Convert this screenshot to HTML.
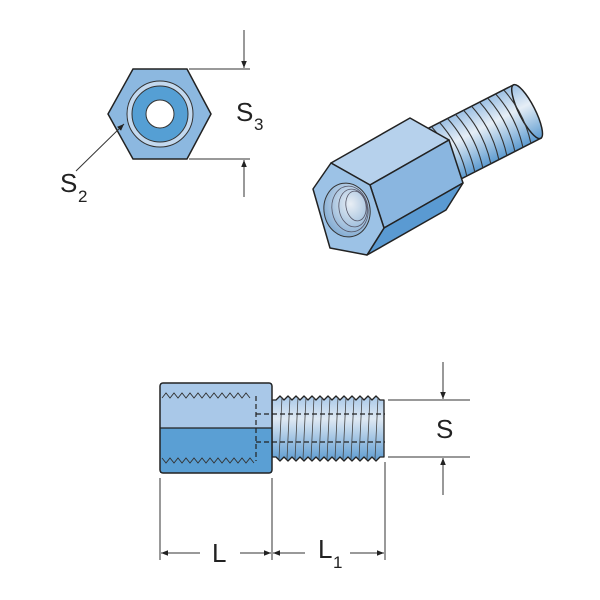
<!DOCTYPE html>
<html><head><style>body{margin:0;background:#fff}svg{display:block}</style></head><body>
<svg width="600" height="600" viewBox="0 0 600 600" xmlns="http://www.w3.org/2000/svg">
<defs>
<marker id="ar" viewBox="0 0 10 10" refX="10" refY="5" markerWidth="7" markerHeight="7" orient="auto"><path d="M0,1 L10,5 L0,9 z" fill="#222"/></marker>
<linearGradient id="th" x1="0" y1="0" x2="0" y2="1"><stop offset="0" stop-color="#9cc0e4"/><stop offset="0.4" stop-color="#e6eef6"/><stop offset="1" stop-color="#5d9bd0"/></linearGradient>
<linearGradient id="th2" x1="0" y1="0" x2="0" y2="1"><stop offset="0" stop-color="#a8c8e8"/><stop offset="0.35" stop-color="#dfe9f3"/><stop offset="1" stop-color="#5e9cd2"/></linearGradient>
<radialGradient id="hole" cx="0.6" cy="0.4" r="0.7"><stop offset="0" stop-color="#e8eef5"/><stop offset="1" stop-color="#7aa6d0"/></radialGradient>
</defs>
<g font-family="Liberation Sans, sans-serif" fill="#222">
<polygon points="133,69 187,69 211,114 187,159 133,159 108,114" fill="#8cb8e0" stroke="#222" stroke-width="1.5"/>
<circle cx="160" cy="114" r="33" fill="#c3d9ef" stroke="#333" stroke-width="1"/>
<circle cx="160" cy="114" r="28" fill="#559fd4" stroke="#333" stroke-width="1"/>
<circle cx="160" cy="114" r="14" fill="#fff" stroke="#333" stroke-width="1"/>
<line x1="189" y1="69" x2="250" y2="69" stroke="#333"/>
<line x1="189" y1="159" x2="250" y2="159" stroke="#333"/>
<line x1="244" y1="30" x2="244" y2="68" stroke="#333" marker-end="url(#ar)"/>
<line x1="244" y1="197" x2="244" y2="160" stroke="#333" marker-end="url(#ar)"/>
<text x="236" y="121" font-size="26">S</text><text x="254" y="130" font-size="17">3</text>
<line x1="76" y1="171" x2="124" y2="124" stroke="#333" marker-end="url(#ar)"/>
<text x="60" y="192" font-size="26">S</text><text x="78" y="202" font-size="17">2</text>
<g transform="translate(438,157) rotate(-27)">
<rect x="0" y="-30" width="100" height="60" fill="url(#th)" stroke="#222" stroke-width="1.5"/>
<ellipse cx="100" cy="0" rx="8" ry="30" fill="url(#th)" stroke="#222" stroke-width="1.5"/>
<g stroke="#333" stroke-width="1.1" fill="none">
<path d="M8,-30 q8,30 0,60 M17,-30 q8,30 0,60 M26,-30 q8,30 0,60 M35,-30 q8,30 0,60 M44,-30 q8,30 0,60 M53,-30 q8,30 0,60 M62,-30 q8,30 0,60 M71,-30 q8,30 0,60 M80,-30 q8,30 0,60 M89,-30 q8,30 0,60"/>
</g>
</g>
<polygon points="331,163 410,118 449,140 370,185" fill="#b6d1ec" stroke="#222" stroke-width="1.5" stroke-linejoin="round"/>
<polygon points="370,185 449,140 463,183 384,228" fill="#8ab6e0" stroke="#222" stroke-width="1.5" stroke-linejoin="round"/>
<polygon points="384,228 463,183 446,210 367,255" fill="#5a9ad2" stroke="#222" stroke-width="1.5" stroke-linejoin="round"/>
<polygon points="313,189 331,163 370,185 384,228 367,255 330,248" fill="#9cc2e6" stroke="#222" stroke-width="1.5" stroke-linejoin="round"/>
<ellipse cx="347" cy="210" rx="23" ry="27" transform="rotate(-10 347 210)" fill="url(#hole)" stroke="#333" stroke-width="1"/>
<g stroke="#556" stroke-width="0.8" fill="none">
<ellipse cx="350" cy="209" rx="18" ry="23" transform="rotate(-10 350 209)"/>
<ellipse cx="353" cy="208" rx="14" ry="19" transform="rotate(-10 353 208)"/>
<ellipse cx="356" cy="206" rx="10" ry="15" transform="rotate(-10 356 206)"/>
</g>
<rect x="272" y="400" width="112" height="57" fill="url(#th2)"/>
<path d="M272,400 l4,0 l4,-4 l4,4 l4,-4 l4,4 l4,-4 l4,4 l4,-4 l4,4 l4,-4 l4,4 l4,-4 l4,4 l4,-4 l4,4 l4,-4 l4,4 l4,-4 l4,4 l4,-4 l4,4 l4,-4 l4,4 l4,-4 l4,4 l4,-4 l4,4 l4,0 v57 l-4,0 l-4,4 l-4,-4 l-4,4 l-4,-4 l-4,4 l-4,-4 l-4,4 l-4,-4 l-4,4 l-4,-4 l-4,4 l-4,-4 l-4,4 l-4,-4 l-4,4 l-4,-4 l-4,4 l-4,-4 l-4,4 l-4,-4 l-4,4 l-4,-4 l-4,4 l-4,-4 l-4,4 l-4,-4 l-4,0 z" fill="url(#th2)" stroke="#222" stroke-width="1.3" stroke-linejoin="round"/>
<g stroke="#444" stroke-width="0.8"><path d="M282,397 l-3,62 M290,397 l-3,62 M298,397 l-3,62 M306,397 l-3,62 M314,397 l-3,62 M322,397 l-3,62 M330,397 l-3,62 M338,397 l-3,62 M346,397 l-3,62 M354,397 l-3,62 M362,397 l-3,62 M370,397 l-3,62 M378,397 l-3,62"/></g>
<rect x="160" y="383" width="112" height="45" fill="#a9c8e8"/>
<rect x="160" y="428" width="112" height="45" fill="#5a9fd4"/>
<line x1="160" y1="428" x2="272" y2="428" stroke="#222" stroke-width="1.2"/>
<rect x="160" y="383" width="112" height="90" rx="3" fill="none" stroke="#222" stroke-width="1.5"/>
<path d="M162,398 l4,-5 l4,5 l4,-5 l4,5 l4,-5 l4,5 l4,-5 l4,5 l4,-5 l4,5 l4,-5 l4,5 l4,-5 l4,5 l4,-5 l4,5 l4,-5 l4,5 l4,-5 l4,5 l4,-5 l4,5" fill="none" stroke="#333" stroke-width="0.9"/>
<path d="M162,458 l4,5 l4,-5 l4,5 l4,-5 l4,5 l4,-5 l4,5 l4,-5 l4,5 l4,-5 l4,5 l4,-5 l4,5 l4,-5 l4,5 l4,-5 l4,5 l4,-5 l4,5 l4,-5 l4,5 l4,-5 l4,5" fill="none" stroke="#333" stroke-width="0.9"/>
<path d="M256,396 V461 M256,414 H385 M256,442 H385" fill="none" stroke="#222" stroke-width="1.2" stroke-dasharray="5,3"/>
<g stroke="#333" stroke-width="1">
<line x1="160" y1="478" x2="160" y2="560"/><line x1="272" y1="478" x2="272" y2="560"/><line x1="385" y1="462" x2="385" y2="560"/>
<line x1="388" y1="400" x2="470" y2="400"/><line x1="388" y1="457" x2="470" y2="457"/>
<line x1="200" y1="553" x2="161" y2="553" marker-end="url(#ar)"/><line x1="240" y1="553" x2="271" y2="553" marker-end="url(#ar)"/>
<line x1="305" y1="553" x2="273" y2="553" marker-end="url(#ar)"/><line x1="350" y1="553" x2="384" y2="553" marker-end="url(#ar)"/>
<line x1="443" y1="362" x2="443" y2="399" marker-end="url(#ar)"/><line x1="443" y1="495" x2="443" y2="458" marker-end="url(#ar)"/>
</g>
<text x="212" y="562" font-size="26">L</text>
<text x="318" y="558" font-size="26">L</text><text x="333" y="568" font-size="17">1</text>
<text x="436" y="438" font-size="26">S</text>
</g>
</svg>
</body></html>
